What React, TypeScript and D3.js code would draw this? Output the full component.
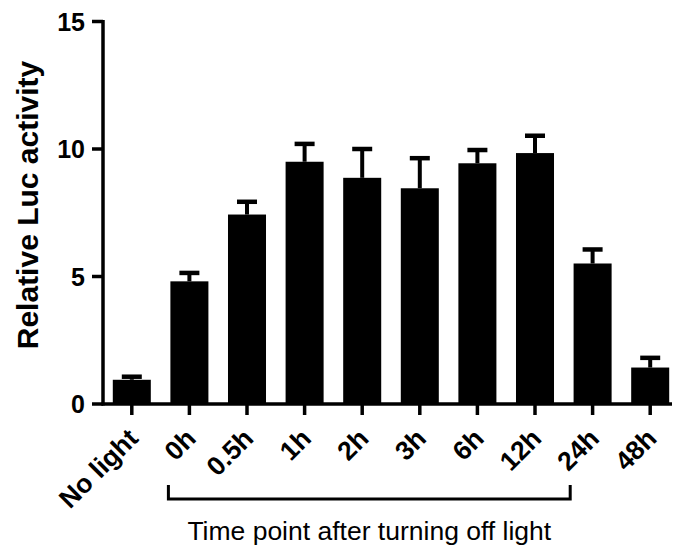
import React from "react";
import * as d3 from "d3";

const categories = ["No light", "0h", "0.5h", "1h", "2h", "3h", "6h", "12h", "24h", "48h"];
const means = [0.95, 4.81, 7.43, 9.5, 8.87, 8.46, 9.44, 9.84, 5.51, 1.43];
const errors = [0.12, 0.33, 0.5, 0.7, 1.13, 1.18, 0.52, 0.68, 0.55, 0.38];
const yTicks = [0, 5, 10, 15];

const W = 673;
const H = 552;
const FONT = "Arial, 'Liberation Sans', Helvetica, sans-serif";

export default function App() {
  const y = d3.scaleLinear().domain([0, 15]).range([404, 21.5]);
  const x = d3
    .scaleBand<string>()
    .domain(categories)
    .range([103, 679])
    .paddingInner(0.34)
    .paddingOuter(0.17);
  const bw = x.bandwidth();
  const cx = (c: string) => (x(c) as number) + bw / 2;

  const bracketL = cx("0h") - 21;
  const bracketR = cx("48h") - 80;

  return (
    <svg
      width={W}
      height={H}
      style={{ position: "absolute", left: 0, top: 0, background: "#fff" }}
      fontFamily={FONT}
    >
      <rect x={0} y={0} width={W} height={H} fill="#fff" />
      {/* bars */}
      {categories.map((c, i) => (
        <g key={c}>
          <line
            x1={cx(c)}
            x2={cx(c)}
            y1={y(means[i])}
            y2={y(means[i] + errors[i])}
            stroke="#000"
            strokeWidth={4}
          />
          <line
            x1={cx(c) - 10}
            x2={cx(c) + 10}
            y1={y(means[i] + errors[i])}
            y2={y(means[i] + errors[i])}
            stroke="#000"
            strokeWidth={4.5}
          />
          <rect
            x={x(c)}
            y={y(means[i])}
            width={bw}
            height={y(0) - y(means[i])}
            fill="#000"
          />
        </g>
      ))}
      {/* y axis */}
      <line x1={103} x2={103} y1={y(15) - 1.5} y2={y(0) + 1.5} stroke="#000" strokeWidth={3.5} />
      {yTicks.map((t) => (
        <g key={t}>
          <line x1={92} x2={103} y1={y(t)} y2={y(t)} stroke="#000" strokeWidth={3.5} />
          <text
            x={85}
            y={y(t)}
            dy="0.36em"
            textAnchor="end"
            fontSize={25}
            fontWeight="bold"
          >
            {t}
          </text>
        </g>
      ))}
      <text
        transform={`translate(38, 205) rotate(-90)`}
        textAnchor="middle"
        fontSize={30}
        fontWeight="bold"
      >
        Relative Luc activity
      </text>
      {/* x axis */}
      <line x1={101.5} x2={672} y1={y(0)} y2={y(0)} stroke="#000" strokeWidth={3.5} />
      {categories.map((c) => (
        <g key={"t" + c}>
          <line x1={cx(c)} x2={cx(c)} y1={y(0)} y2={y(0) + 11} stroke="#000" strokeWidth={3.5} />
          <text
            transform={`translate(${cx(c) + 8}, 440) rotate(-45)`}
            textAnchor="end"
            fontSize={26.5}
            fontWeight="bold"
          >
            {c}
          </text>
        </g>
      ))}
      {/* bracket */}
      <path
        d={`M${bracketL},485 V499 H${bracketR} V485`}
        fill="none"
        stroke="#000"
        strokeWidth={3}
      />
      <text x={(bracketL + bracketR) / 2} y={540} textAnchor="middle" fontSize={26.5}>
        Time point after turning off light
      </text>
    </svg>
  );
}
